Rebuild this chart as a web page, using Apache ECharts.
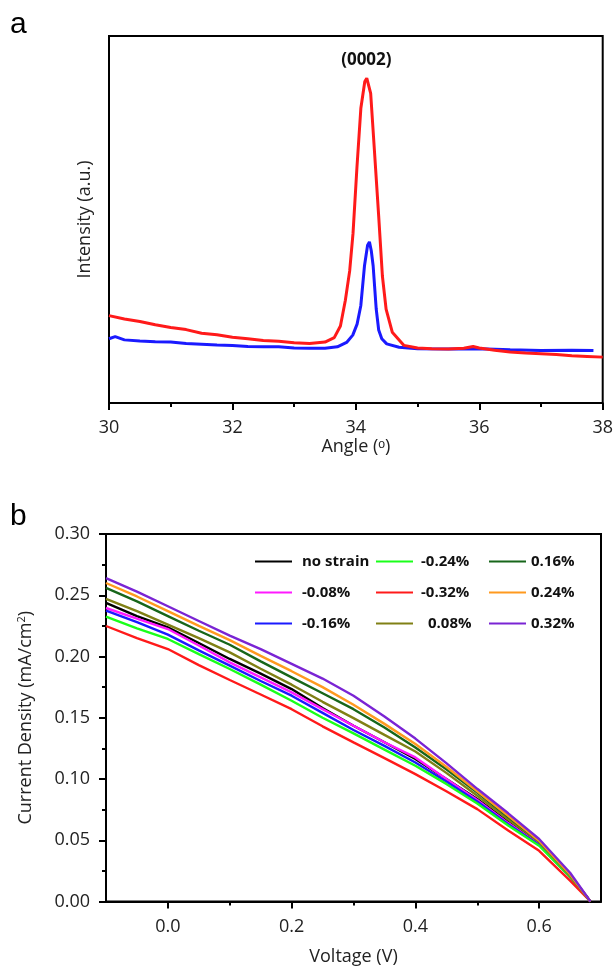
<!DOCTYPE html>
<html>
<head>
<meta charset="utf-8">
<script src="https://cdn.jsdelivr.net/npm/echarts/dist/echarts.min.js"></script>
<style>
  html, body { margin: 0; padding: 0; background: #fff; }
  #main { width: 616px; height: 969px; }
</style>
</head>
<body>
<div id="main"></div>
<script>
// ---- panel a : XRD ----
var redAngle = [30.0, 30.25, 30.5, 30.75, 31.0, 31.25, 31.5, 31.75, 32.0, 32.25, 32.5, 32.75, 33.0, 33.25, 33.5, 33.65, 33.75, 33.83, 33.9, 33.954, 34.018, 34.081, 34.145, 34.177, 34.24, 34.3, 34.37, 34.43, 34.49, 34.59, 34.78, 35.0, 35.23, 35.5, 35.75, 35.9, 36.0, 36.25, 36.5, 36.75, 37.0, 37.25, 37.5, 37.75, 38.0];
var redInt = [23.8, 22.9, 22.2, 21.3, 20.6, 20.0, 19.0, 18.6, 17.9, 17.5, 17.0, 16.8, 16.4, 16.2, 16.6, 17.8, 21.0, 28.0, 36.0, 46.2, 64.3, 80.3, 87.6, 88.5, 84.4, 69.0, 50.9, 34.6, 25.6, 19.3, 15.7, 15.0, 14.8, 14.7, 14.9, 15.4, 15.0, 14.4, 13.9, 13.6, 13.4, 13.2, 12.9, 12.7, 12.5];
var blueAngle = [30.0, 30.1, 30.25, 30.5, 30.75, 31.0, 31.25, 31.5, 31.75, 32.0, 32.25, 32.5, 32.75, 33.0, 33.25, 33.5, 33.7, 33.85, 33.95, 34.02, 34.08, 34.14, 34.19, 34.22, 34.25, 34.28, 34.33, 34.37, 34.42, 34.5, 34.7, 35.0, 35.5, 36.0, 36.5, 37.0, 37.5, 37.85];
var blueInt = [17.5, 18.1, 17.2, 16.9, 16.7, 16.6, 16.2, 16.0, 15.8, 15.7, 15.4, 15.3, 15.3, 15.0, 14.9, 14.9, 15.3, 16.5, 18.5, 21.5, 26.5, 37.4, 43.0, 43.9, 41.5, 37.4, 25.6, 19.9, 17.5, 16.1, 15.2, 14.8, 14.7, 14.8, 14.5, 14.3, 14.4, 14.3];

// ---- panel b : J-V ----
var voltage = [-0.1, -0.05, 0, 0.05, 0.1, 0.15, 0.2, 0.25, 0.3, 0.35, 0.4, 0.45, 0.5, 0.55, 0.6, 0.65, 0.683];
var strainNames = ['no strain', '-0.08%', '-0.16%', '-0.24%', '-0.32%', '0.08%', '0.16%', '0.24%', '0.32%'];
var strainColors = ['#000000', '#ff1aff', '#1a1aff', '#1aff1a', '#ff1a1a', '#808015', '#17661a', '#ff9a1f', '#7a24d4'];
var jNoStrain = [0.2437, 0.2330, 0.2238, 0.2110, 0.1980, 0.1860, 0.1734, 0.1580, 0.1435, 0.1300, 0.1163, 0.1000, 0.0836, 0.0650, 0.0474, 0.0210, 0];
var jM008 = [0.2396, 0.2310, 0.2224, 0.2090, 0.1952, 0.1830, 0.1707, 0.1570, 0.1435, 0.1300, 0.1176, 0.1000, 0.0828, 0.0640, 0.0468, 0.0200, 0];
var jM016 = [0.2374, 0.2280, 0.2178, 0.2050, 0.1925, 0.1800, 0.1680, 0.1540, 0.1400, 0.1270, 0.1135, 0.0980, 0.0817, 0.0630, 0.0463, 0.0200, 0];
var jM024 = [0.2325, 0.2230, 0.2143, 0.2020, 0.1898, 0.1770, 0.1639, 0.1500, 0.1372, 0.1240, 0.1108, 0.0960, 0.0800, 0.0620, 0.0455, 0.0200, 0];
var jM032 = [0.2249, 0.2150, 0.2061, 0.1930, 0.1808, 0.1690, 0.1570, 0.1430, 0.1299, 0.1170, 0.1040, 0.0900, 0.0754, 0.0580, 0.0414, 0.0170, 0];
var jP008 = [0.2470, 0.2370, 0.2260, 0.2150, 0.2034, 0.1900, 0.1770, 0.1630, 0.1497, 0.1360, 0.1225, 0.1050, 0.0863, 0.0670, 0.0487, 0.0210, 0];
var jP016 = [0.2560, 0.2450, 0.2330, 0.2210, 0.2096, 0.1960, 0.1830, 0.1700, 0.1570, 0.1420, 0.1258, 0.1080, 0.0890, 0.0690, 0.0496, 0.0220, 0];
var jP024 = [0.2600, 0.2490, 0.2370, 0.2250, 0.2134, 0.2005, 0.1880, 0.1750, 0.1606, 0.1450, 0.1285, 0.1100, 0.0900, 0.0700, 0.0496, 0.0220, 0];
var jP032 = [0.2640, 0.2530, 0.2410, 0.2290, 0.2170, 0.2060, 0.1940, 0.1820, 0.1680, 0.1510, 0.1330, 0.1130, 0.0920, 0.0720, 0.0510, 0.0235, 0];
var jSeries = [jNoStrain, jM008, jM016, jM024, jM032, jP008, jP016, jP024, jP032];
var voltTicks = [0, 0.2, 0.4, 0.6];
var voltMinor = [0.1, 0.3, 0.5];

var FONT = '"Open Sans", sans-serif';

function pairs(xs, ys) {
    var out = [];
    for (var i = 0; i < xs.length; i++) out.push([xs[i], ys[i]]);
    return out;
}

var chart = echarts.init(document.getElementById('main'), null, { renderer: 'canvas' });

var series = [
    {
        type: 'line', xAxisIndex: 0, yAxisIndex: 0, name: 'red', symbol: 'none',
        data: pairs(redAngle, redInt), lineStyle: { color: '#ff1a1a', width: 3 }, itemStyle: { color: '#ff1a1a' },
        z: 3,
        markPoint: {
            symbol: 'circle', symbolSize: 0,
            data: [{ coord: [34.17, 88.5] }],
            label: { show: true, position: 'top', distance: 10, formatter: '(0002)', fontFamily: FONT, fontWeight: 'bold', fontSize: 17, color: '#111' }
        }
    },
    {
        type: 'line', xAxisIndex: 0, yAxisIndex: 0, name: 'blue', symbol: 'none',
        data: pairs(blueAngle, blueInt), lineStyle: { color: '#1a1aff', width: 3 }, itemStyle: { color: '#1a1aff' }, z: 2
    }
];

strainNames.forEach(function (name, i) {
    series.push({
        type: 'line', xAxisIndex: 1, yAxisIndex: 1, name: name, symbol: 'none',
        data: pairs(voltage, jSeries[i]),
        lineStyle: { color: strainColors[i], width: 2.4 }, itemStyle: { color: strainColors[i] }
    });
});

// legend: 3 columns, 3 rows
function legendCol(left, items) {
    return {
        orient: 'vertical', left: left, top: 554, padding: 0,
        itemWidth: 37, itemHeight: 14, itemGap: 16,
        data: items,
        textStyle: { fontFamily: FONT, fontWeight: 'bold', fontSize: 15, color: '#111' }
    };
}
// legend icon as a flat line
function lineItem(name, padLeft) {
    return { name: name, icon: 'path://M0,6 L37,6 L37,8 L0,8 Z', textStyle: { padding: [0, 0, 0, padLeft] } };
}

var option = {
    backgroundColor: '#fff',
    animation: false,
    textStyle: { fontFamily: FONT },
    grid: [
        { left: 109, top: 36, width: 494, height: 367, show: true, borderColor: '#000', borderWidth: 2 },
        { left: 106, top: 534, width: 495, height: 367.5, show: true, borderColor: '#000', borderWidth: 2 }
    ],
    xAxis: [
        {
            type: 'value', gridIndex: 0, min: 30, max: 38, interval: 2,
            name: 'Angle (\u1d52)', nameLocation: 'middle', nameGap: 35,
            nameTextStyle: { fontFamily: FONT, fontSize: 18, color: '#222' },
            axisLine: { onZero: false, lineStyle: { color: '#000', width: 2 } },
            axisTick: { show: true, inside: false, length: 7, lineStyle: { color: '#000', width: 2 } },
            minorTick: { show: true, splitNumber: 2, length: 4, lineStyle: { color: '#000', width: 2 } },
            axisLabel: { fontFamily: FONT, fontSize: 18, color: '#222', margin: 16 },
            splitLine: { show: false }
        },
        {
            type: 'value', gridIndex: 1, min: -0.1, max: 0.7,
            name: 'Voltage (V)', nameLocation: 'middle', nameGap: 46,
            nameTextStyle: { fontFamily: FONT, fontSize: 18, color: '#222' },
            axisLine: { onZero: false, lineStyle: { color: '#000', width: 2 } },
            axisTick: { show: true, inside: false, length: 7, customValues: voltTicks, lineStyle: { color: '#000', width: 2 } },
            axisLabel: { fontFamily: FONT, fontSize: 18, color: '#222', margin: 16, customValues: voltTicks, formatter: function (v) { return v.toFixed(1); } },
            splitLine: { show: false }
        },
        {
            // minor ticks for the voltage axis
            type: 'value', gridIndex: 1, min: -0.1, max: 0.7, position: 'bottom',
            axisLine: { show: false, onZero: false },
            axisTick: { show: true, inside: false, length: 4, customValues: voltMinor, lineStyle: { color: '#000', width: 2 } },
            axisLabel: { show: false },
            splitLine: { show: false }
        }
    ],
    yAxis: [
        {
            type: 'value', gridIndex: 0, min: 0, max: 100,
            name: 'Intensity (a.u.)', nameLocation: 'middle', nameGap: 15,
            nameTextStyle: { fontFamily: FONT, fontSize: 18, color: '#222' },
            axisLine: { show: true, onZero: false, lineStyle: { color: '#000', width: 2 } },
            axisTick: { show: false },
            axisLabel: { show: false },
            splitLine: { show: false }
        },
        {
            type: 'value', gridIndex: 1, min: 0, max: 0.3, interval: 0.05,
            name: 'Current Density (mA/cm{sup|2})', nameLocation: 'middle', nameGap: 70,
            nameTextStyle: {
                fontFamily: FONT, fontSize: 18, color: '#222',
                rich: { sup: { fontFamily: FONT, fontSize: 11, verticalAlign: 'top', padding: [0, 0, 9, 0], color: '#222' } }
            },
            axisLine: { show: true, onZero: false, lineStyle: { color: '#000', width: 2 } },
            axisTick: { show: true, inside: false, length: 7, lineStyle: { color: '#000', width: 2 } },
            minorTick: { show: true, splitNumber: 2, length: 4, lineStyle: { color: '#000', width: 2 } },
            axisLabel: { fontFamily: FONT, fontSize: 18, color: '#222', margin: 16, formatter: function (v) { return v.toFixed(2); } },
            splitLine: { show: false }
        }
    ],
    legend: [
        legendCol(255, [lineItem('no strain', 5), lineItem('-0.08%', 5), lineItem('-0.16%', 5)]),
        legendCol(376, [lineItem('-0.24%', 3), lineItem('-0.32%', 3), lineItem('0.08%', 10)]),
        legendCol(489, [lineItem('0.16%', 0), lineItem('0.24%', 0), lineItem('0.32%', 0)])
    ],
    graphic: [
        { type: 'text', left: 10, top: 10, style: { text: 'a', fontFamily: '"Liberation Sans", Arial', fontSize: 30, fill: '#000' } },
        { type: 'text', left: 10, top: 502, style: { text: 'b', fontFamily: '"Liberation Sans", Arial', fontSize: 30, fill: '#000' } }
    ],
    series: series
};

chart.setOption(option);
</script>
</body>
</html>
